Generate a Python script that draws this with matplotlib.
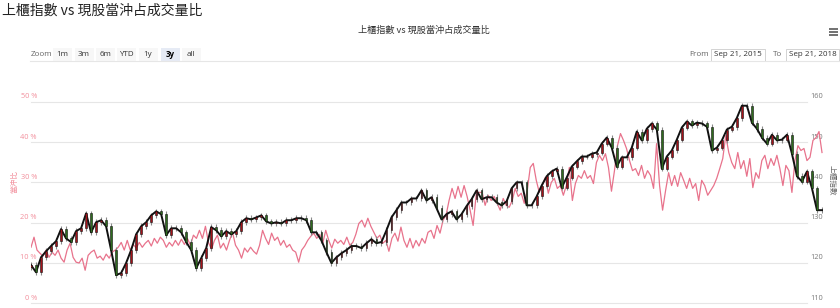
import numpy as np
import pandas as pd
import matplotlib
matplotlib.use('Agg')
import matplotlib.pyplot as plt
import matplotlib.dates as mdates
from matplotlib.patches import Rectangle

plt.rcParams['font.family'] = ['Noto Sans CJK TC', 'DejaVu Sans']

# data (weekly OTC index close, day-trade ratio in %)
start, end = '2015-09-21', '2018-09-21'

otc_close = [
    119.5, 117.7, 121.4, 122.9, 124.2, 125.4, 128.4, 126.1, 125.2, 127.9,
    128.6, 132.3, 127.6, 130.1, 130.6, 129.1, 123.2, 117.0, 117.5, 120.0,
    123.2, 127.1, 129.1, 130.1, 131.8, 132.8, 132.1, 126.9, 128.6, 128.6,
    127.6, 125.2, 123.2, 118.7, 121.2, 123.7, 128.9, 128.1, 126.6, 127.9,
    127.1, 127.9, 130.1, 131.1, 130.8, 131.3, 131.8, 130.3, 129.8, 130.1,
    129.8, 130.6, 130.6, 131.1, 131.1, 130.6, 127.6, 127.6, 125.6, 122.7,
    120.0, 121.4, 122.4, 123.2, 124.2, 124.2, 123.7, 124.9, 125.9, 124.9,
    125.2, 128.1, 131.3, 133.1, 135.0, 135.0, 136.0, 136.0, 138.0, 135.5,
    136.3, 133.6, 130.8, 132.1, 132.8, 130.8, 132.1, 134.1, 135.8, 138.0,
    135.8, 136.3, 136.3, 135.0, 134.3, 135.3, 138.5, 140.0, 140.0, 134.3,
    134.3, 136.5, 139.2, 141.5, 142.7, 143.4, 138.7, 141.2, 143.9, 145.2,
    146.4, 146.4, 147.1, 147.4, 149.6, 151.1, 148.6, 143.9, 146.2, 146.2,
    148.6, 152.6, 150.4, 153.3, 154.6, 153.1, 143.4, 146.4, 147.9, 150.6,
    153.6, 155.1, 154.1, 154.8, 154.6, 153.8, 147.9, 148.6, 150.4, 153.1,
    153.8, 156.0, 159.0, 159.0, 154.8, 153.3, 151.1, 149.6, 151.8, 150.4,
    150.6, 151.8, 147.1, 141.5, 140.2, 142.7, 138.5, 133.1, 133.1,
]

daytrade_ratio = [
    13.9, 16.4, 13.2, 12.4, 11.7, 13.2, 11.4, 12.7, 11.9, 13.2,
    11.2, 10.2, 13.2, 14.9, 11.4, 10.2, 10.0, 11.2, 8.2, 11.9,
    12.7, 13.2, 11.2, 11.7,
    10.7, 12.2, 11.2, 12.7, 13.2, 13.9, 15.1, 13.2, 15.6, 13.2,
    14.6, 13.7, 15.1, 13.9, 14.9, 15.6, 14.2, 16.1, 14.9, 16.4,
    15.6, 13.9, 15.1, 14.2, 15.6, 14.4, 15.9, 14.6, 16.1, 14.4,
    16.9, 16.1, 18.1,
    16.1, 19.1, 15.1, 13.4, 15.6, 16.9, 13.7, 14.9, 13.2, 15.6,
    17.6, 14.4, 13.2, 11.2, 13.7, 12.7, 13.9, 12.9, 12.2, 14.4,
    18.1, 16.1, 14.6, 17.4, 15.6, 16.4, 14.4, 15.6, 13.9, 14.6,
    13.2, 12.7, 10.2,
    13.2, 14.2, 15.6, 16.6, 17.4, 16.1, 17.1, 14.9, 18.1, 15.6,
    13.7, 15.9, 14.9, 15.6, 14.6, 16.4, 14.4, 15.1, 17.1, 19.8,
    20.6, 18.9, 21.1, 19.1, 17.6, 16.1, 16.9, 14.9, 15.6, 12.9,
    16.1, 17.4, 15.4,
    18.9, 15.6, 13.9, 16.1, 13.7, 15.6, 14.2, 16.1, 14.9, 17.6,
    18.1, 16.1, 19.3, 17.4, 20.6, 21.8, 25.5, 28.5, 26.0, 29.0,
    26.3, 29.2, 26.5, 23.1, 19.3, 26.8, 27.5, 27.5, 24.3, 26.8,
    25.5, 26.5, 24.8,
    23.1, 26.0, 24.3, 23.8, 25.5, 28.5, 26.5, 27.3, 24.8, 28.0,
    33.7, 34.7, 30.5, 27.5, 29.2, 31.2, 27.3, 30.0, 31.0, 28.5,
    29.2, 26.8, 29.2, 33.7, 25.5, 29.7, 31.7, 31.0, 32.9, 31.0,
    31.7, 29.7, 34.9,
    36.7, 35.4, 37.1, 33.7, 27.8, 32.9, 39.1, 42.1, 40.4, 38.4,
    35.4, 32.9, 33.4, 31.7, 34.2, 31.0, 32.9, 31.7, 28.5, 39.6,
    29.2, 23.1, 28.0, 32.4, 29.2, 31.7, 29.0, 32.4, 30.5, 28.5,
    31.0, 28.5, 29.7,
    25.5, 30.5, 29.2, 26.8, 28.0, 29.2, 31.0, 33.4, 35.9, 41.6,
    37.4, 34.9, 33.4, 37.4, 33.4, 35.4, 31.5, 35.9, 28.7, 32.4,
    31.0, 35.4, 36.7, 33.4, 35.9, 34.2, 36.7, 33.4, 29.2, 34.2,
    32.9, 27.5, 35.4,
    39.1, 37.9, 38.4, 35.4, 36.2, 40.4, 41.1, 42.6, 37.4,
]

pct_ticks = [0, 10, 20, 30, 40, 50]
idx_ticks = [110, 120, 130, 140, 150, 160]
buttons = ['1m', '3m', '6m', 'YTD', '1y', '3y', 'all']
title = '上櫃指數 vs 現股當沖占成交量比'

W, H = 840, 308
fig = plt.figure(figsize=(W / 100, H / 100), dpi=100)

# pixel overlay for the page chrome
ui = fig.add_axes([0, 0, 1, 1], zorder=0)
ui.set_xlim(0, W)
ui.set_ylim(H, 0)
ui.axis('off')

ui.text(2, 11, title, fontsize=10, color='#222222', va='center', ha='left')
ui.text(424, 30.5, title, fontsize=6.6, color='#333333', va='center', ha='center')
for yy in (29, 32, 35):
    ui.plot([829, 838], [yy, yy], color='#666666', lw=1.3, solid_capstyle='butt')

ui_font = ['Open Sans', 'DejaVu Sans']
ui.plot([30, 840], [60.8, 60.8], color='#e6e6e6', lw=0.8)
ui.text(31, 54.5, 'Zoom', fontsize=5.8, color='#666666', va='center', family=ui_font)
btn_x = [62.5, 84, 105.5, 126.5, 148, 170, 191]
for lab, cx in zip(buttons, btn_x):
    sel = lab == '3y'
    ui.add_patch(Rectangle((cx - 9.5, 48.3), 19, 12.2,
                           facecolor='#e6ebf5' if sel else '#f7f7f7', edgecolor='none'))
    ui.text(cx, 54.5, lab, fontsize=5.8, color='#000000' if sel else '#333333',
            fontweight='bold' if sel else 'normal', ha='center', va='center', family=ui_font)

ui.text(689, 54.5, 'From', fontsize=5.8, color='#666666', va='center', family=ui_font)
ui.text(773, 54.5, 'To', fontsize=5.8, color='#666666', va='center', family=ui_font)
for x0, x1, lab in [(711, 765, 'Sep 21, 2015'), (786, 839, 'Sep 21, 2018')]:
    ui.add_patch(Rectangle((x0, 48.5), x1 - x0, 12, facecolor='white',
                           edgecolor='#cccccc', lw=0.6))
    ui.text((x0 + x1) / 2, 54.5, lab, fontsize=5.8, color='#333333',
            ha='center', va='center', family=ui_font)

# grid and axis labels
y0px, y50px = 303.3, 101.7
step = (y0px - y50px) / 5
for i, (p, v) in enumerate(zip(pct_ticks, idx_ticks)):
    gy = y0px - i * step
    ui.plot([31, 807], [gy, gy], color='#e6e6e6', lw=0.8)
    ui.text(37, gy - 1.5, f'{p} %', fontsize=5.3, color='#f28f9c', ha='right', va='bottom',
            family=ui_font)
    ui.text(810, gy - 1.5, f'{v}', fontsize=5.3, color='#7a7a7a', ha='left', va='bottom',
            family=ui_font)
ui.text(14, 182, '當沖比', fontsize=5.5, color='#f28f9c', rotation=90, ha='center', va='center')
ui.text(831.5, 180, '上櫃指數', fontsize=5.5, color='#666666', rotation=270, ha='center', va='center')

# plot area
ax = fig.add_axes([31 / W, (H - y0px) / H, 792 / W, (y0px - y50px) / H], zorder=1)
ax.patch.set_alpha(0)
for s in ax.spines.values():
    s.set_visible(False)
ax.set_xticks([])
ax.set_yticks([])

ratio_dates = pd.date_range(start, end, periods=len(daytrade_ratio))
ax.plot(ratio_dates, daytrade_ratio, color='#e8738c', lw=0.9)
ax.set_ylim(0, 50)

ax2 = ax.twinx()
ax2.set_ylim(110, 160)
ax2.set_yticks([])
for s in ax2.spines.values():
    s.set_visible(False)

idx_dates = mdates.date2num(pd.date_range(start, end, periods=len(otc_close)))
close = np.array(otc_close)
opn = np.r_[close[0] - 0.6, close[:-1]]
up = close >= opn
body_w = 2.4
ax2.vlines(idx_dates, np.minimum(opn, close) - 0.7, np.maximum(opn, close) + 0.7,
           color='#8a8a8a', lw=0.8, zorder=1)
ax2.plot(idx_dates, close, color='#111111', lw=1.4, zorder=2)
ax2.bar(idx_dates, close - opn, bottom=opn, width=body_w,
        color=np.where(up, '#a3121a', '#2f6b1e'), edgecolor='#111111', lw=0.4, zorder=3)

t0 = mdates.date2num(pd.Timestamp(start))
t1 = mdates.date2num(pd.Timestamp(end))
ax.set_xlim(t0, t1 + (t1 - t0) / 790)

fig.savefig('out.png', dpi=100)
